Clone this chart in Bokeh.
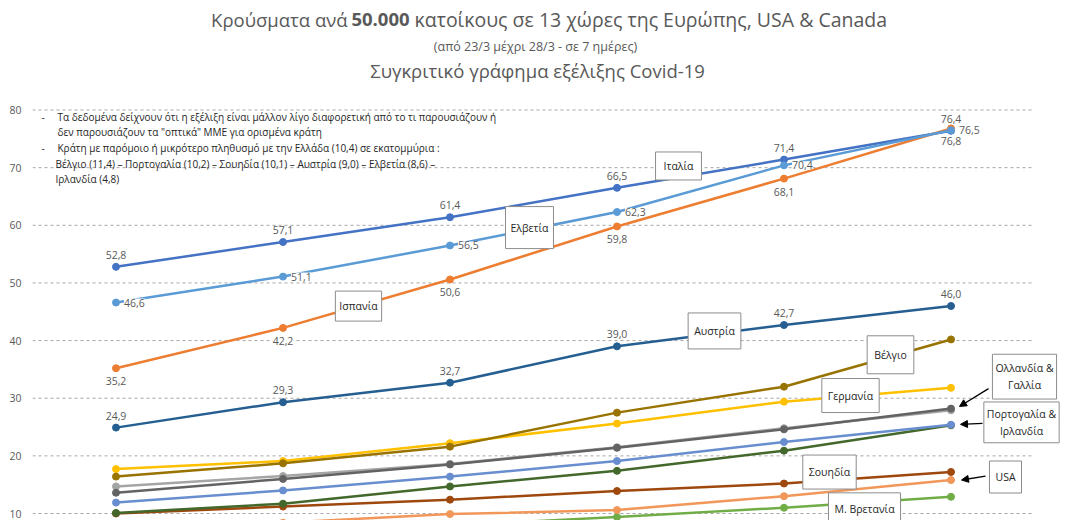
from bokeh.plotting import figure
from bokeh.models import (ColumnDataSource, LabelSet, Label, Arrow, NormalHead,
                          FixedTicker, Range1d)
from bokeh.embed import file_html
from bokeh.resources import INLINE
from bokeh.core.properties import value

# ---------------- data ----------------
dates = ["23/3", "24/3", "25/3", "26/3", "27/3", "28/3"]
yticks = [10, 20, 30, 40, 50, 60, 70, 80]

italy = [52.8, 57.1, 61.4, 66.5, 71.4, 76.4]
switzerland = [46.6, 51.1, 56.5, 62.3, 70.4, 76.5]
spain = [35.2, 42.2, 50.6, 59.8, 68.1, 76.8]
austria = [24.9, 29.3, 32.7, 39.0, 42.7, 46.0]
belgium = [16.4, 18.7, 21.6, 27.5, 32.0, 40.2]
germany = [17.7, 19.1, 22.2, 25.6, 29.4, 31.8]
france = [14.7, 16.5, 18.6, 21.5, 24.8, 27.9]
netherlands = [13.6, 16.0, 18.5, 21.4, 24.6, 28.2]
ireland = [11.9, 14.0, 16.4, 19.1, 22.4, 25.4]
portugal = [10.1, 11.7, 14.7, 17.4, 20.9, 25.3]
sweden = [10.0, 11.2, 12.4, 13.9, 15.2, 17.2]
usa = [6.7, 8.4, 9.9, 10.6, 13.0, 15.8]
uk = [5.0, 6.4, 7.9, 9.4, 11.0, 12.9]

series = [
    ("Ιταλία", italy, "#4472C4"),
    ("Ισπανία", spain, "#ED7D31"),
    ("Γαλλία", france, "#A5A5A5"),
    ("Γερμανία", germany, "#FFC000"),
    ("Ελβετία", switzerland, "#5B9BD5"),
    ("Μ. Βρετανία", uk, "#70AD47"),
    ("Σουηδία", sweden, "#9E480E"),
    ("Ολλανδία", netherlands, "#636363"),
    ("Βέλγιο", belgium, "#997300"),
    ("Αυστρία", austria, "#255E91"),
    ("Πορτογαλία", portugal, "#43682B"),
    ("Ιρλανδία", ireland, "#698ED0"),
    ("USA", usa, "#F1975A"),
]

FONT = "Open Sans"
xs = list(range(len(dates)))

# ---------------- figure ----------------
W, H = 1075, 520
LEFT = 32
PX_PER_X = 167.0
PX_PER_Y = 5.764
Y0 = 10 - 7.0 / PX_PER_Y
Y1 = Y0 + H / PX_PER_Y
X0 = -0.5
X1 = X0 + (W - LEFT) / PX_PER_X

p = figure(width=W, height=H, x_range=Range1d(X0, X1),
           y_range=Range1d(Y0, Y1), output_backend="svg", toolbar_location=None,
           x_axis_location=None, min_border_left=LEFT, min_border_right=0,
           min_border_top=0, min_border_bottom=0)
p.outline_line_color = None
p.background_fill_color = "white"
p.border_fill_color = "white"
p.xgrid.visible = False
p.ygrid.visible = False
p.yaxis.ticker = FixedTicker(ticks=yticks)
p.yaxis.axis_line_color = None
p.yaxis.major_tick_line_color = None
p.yaxis.minor_tick_line_color = None
p.yaxis.major_tick_out = 0
p.yaxis.major_tick_in = 0
p.yaxis.major_label_standoff = 11
p.yaxis.major_label_text_font = FONT
p.yaxis.major_label_text_font_size = "10.5px"
p.yaxis.major_label_text_color = "#595959"

# dashed horizontal gridlines spanning the category area only
n = len(yticks)
p.segment(x0=[-0.5] * n, x1=[len(dates) - 0.5] * n, y0=yticks, y1=yticks,
          line_color="#a6a6a6", line_dash="3 3", line_width=1)


def rx(px):
    return (px - 115.5) / PX_PER_X


def ry(py):
    return 10.0 + (516.7 - py) / 5.8


for name, vals, col in series:
    p.line(xs, vals, line_width=2.5, line_color=col)
    p.scatter(xs, vals, size=7, fill_color=col, line_color=col)


def fmt(v):
    return f"{v:.1f}".replace(".", ",")


def add_values(vals, where):
    src = ColumnDataSource(dict(x=xs, y=vals, t=[fmt(v) for v in vals]))
    kw = dict(x="x", y="y", text="t", source=src, text_font=value(FONT),
              text_font_size="10.5px", text_color="#595959",
              background_fill_color="white")
    if where == "above":
        kw.update(text_align="center", text_baseline="bottom", y_offset=8)
    elif where == "below":
        kw.update(text_align="center", text_baseline="top", y_offset=-9)
    else:
        kw.update(text_align="left", text_baseline="middle", x_offset=8)
    p.add_layout(LabelSet(**kw))


add_values(italy, "above")
add_values(switzerland, "right")
add_values(spain, "below")
add_values(austria, "above")

# ---------------- titles ----------------
TC = "#595959"
p.add_layout(Label(x=rx(347), y=ry(20), text="Κρούσματα ανά", text_align="right",
                   text_baseline="middle", text_font=FONT, text_font_size="18.5px",
                   text_color=TC))
p.add_layout(Label(x=rx(380), y=ry(20), text="50.000", text_align="center",
                   text_baseline="middle", text_font=FONT, text_font_size="18.5px",
                   text_font_style="bold", text_color=TC))
p.add_layout(Label(x=rx(414), y=ry(20),
                   text="κατοίκους σε 13 χώρες της Ευρώπης, USA & Canada",
                   text_align="left", text_baseline="middle", text_font=FONT,
                   text_font_size="19.5px", text_color=TC))
p.add_layout(Label(x=rx(535), y=ry(47),
                   text="(από 23/3 μέχρι 28/3 - σε 7 ημέρες)",
                   text_align="center", text_baseline="middle", text_font=FONT,
                   text_font_size="12.5px", text_color=TC))
p.add_layout(Label(x=rx(537), y=ry(71),
                   text="Συγκριτικό γράφημα εξέλιξης Covid-19",
                   text_align="center", text_baseline="middle", text_font=FONT,
                   text_font_size="18.5px", text_color=TC))

# ---------------- notes ----------------
notes = [
    (41, 118, "-"),
    (57, 118, "Τα δεδομένα δείχνουν ότι η εξέλιξη είναι μάλλον λίγο διαφορετική από το τι παρουσιάζουν ή"),
    (57, 133, "δεν παρουσιάζουν τα \"οπτικά\" ΜΜΕ για ορισμένα κράτη"),
    (41, 149, "-"),
    (57, 149, "Κράτη με παρόμοιο ή μικρότερο πληθυσμό με την Ελλάδα (10,4) σε εκατομμύρια :"),
    (55, 165, "Βέλγιο (11,4) – Πορτογαλία (10,2) – Σουηδία (10,1) – Αυστρία (9,0) – Ελβετία (8,6) –"),
    (55, 180, "Ιρλανδία  (4,8)"),
]
for nx, ny, t in notes:
    p.add_layout(Label(x=rx(nx), y=ry(ny), text=t, text_align="left",
                       text_baseline="middle", text_font=FONT,
                       text_font_size="10px", text_color="#262626"))

# ---------------- country boxes ----------------
boxes = [
    (678, 167, "Ιταλία", (8, 7)),
    (529, 229, "Ελβετία", (5, 14)),
    (358, 308, "Ισπανία", (4, 8)),
    (714, 333, "Αυστρία", (6, 11)),
    (890, 357, "Βέλγιο", (7, 12)),
    (850, 398, "Γερμανία", (6, 10)),
    (1024, 379, "Ολλανδία &\nΓαλλία", (3, 7)),
    (1021, 425, "Πορτογαλία &\nΙρλανδία", (3, 5)),
    (829, 475, "Σουηδία", (6, 10)),
    (1005, 480, "USA", (6, 9)),
    (864, 512, "Μ. Βρετανία", (6, 9)),
]
for bx, by, t, pad in boxes:
    p.add_layout(Label(x=rx(bx), y=ry(by), text=t, text_align="center",
                       text_baseline="middle", text_font=FONT,
                       text_font_size="10.5px", text_color="#262626",
                       background_fill_color="white", border_line_color="#8c8c8c",
                       border_line_width=1, padding=pad))

# ---------------- arrows ----------------
arrows = [
    ((988, 391), (959, 409)),
    ((982, 426), (960, 427)),
    ((985, 479), (961, 483)),
]
for (sx, sy), (ex, ey) in arrows:
    p.add_layout(Arrow(x_start=rx(sx), y_start=ry(sy), x_end=rx(ex), y_end=ry(ey),
                       line_color="black", line_width=1.3,
                       end=NormalHead(size=7, fill_color="black", line_color="black")))

open("out.html", "w").write(file_html(p, INLINE))
